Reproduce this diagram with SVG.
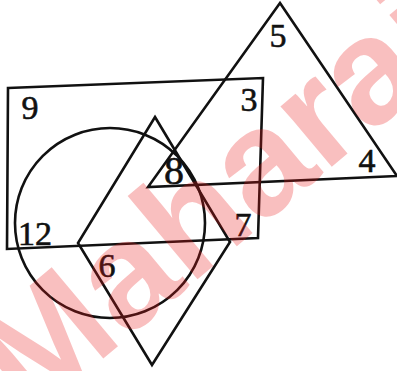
<svg xmlns="http://www.w3.org/2000/svg" width="397" height="371" viewBox="0 0 397 371">
<style>
.sh{fill:none;stroke:#111;stroke-width:2.6;stroke-linejoin:miter}
.lb{font-family:"Liberation Serif","DejaVu Serif",serif;font-size:34px;fill:#111;stroke:#111;stroke-width:0.6}
.wm{font-family:"Liberation Sans",Arial,sans-serif;font-weight:bold;font-size:150px;fill:#e81818;fill-opacity:0.28}
</style>
<rect width="397" height="371" fill="#fff"/>
<g id="connectors">
</g>
<g id="rectangle"><polygon class="sh" points="8,88 263,78 258,238 7,249"/></g>
<g id="circle"><circle class="sh" cx="110" cy="223" r="95"/></g>
<g id="rhombus"><polygon class="sh" points="155,117 230,242 152,365 78,243"/></g>
<g id="triangle"><polygon class="sh" points="280,3 397,176 148,187"/></g>
<g id="labels">
<text class="lb" x="30" y="119" text-anchor="middle">9</text>
<text class="lb" x="278" y="47" text-anchor="middle">5</text>
<text class="lb" x="249" y="111" text-anchor="middle">3</text>
<text class="lb" x="367" y="172" text-anchor="middle">4</text>
<text class="lb" x="174" y="184" text-anchor="middle" style="font-size:40px">8</text>
<text class="lb" x="35" y="245" text-anchor="middle">12</text>
<text class="lb" x="107" y="277" text-anchor="middle">6</text>
<text class="lb" x="243" y="236" text-anchor="middle">7</text>
</g>
<g id="watermark"><text class="wm" transform="translate(30,420) rotate(-40)">Maharai</text></g>
</svg>
